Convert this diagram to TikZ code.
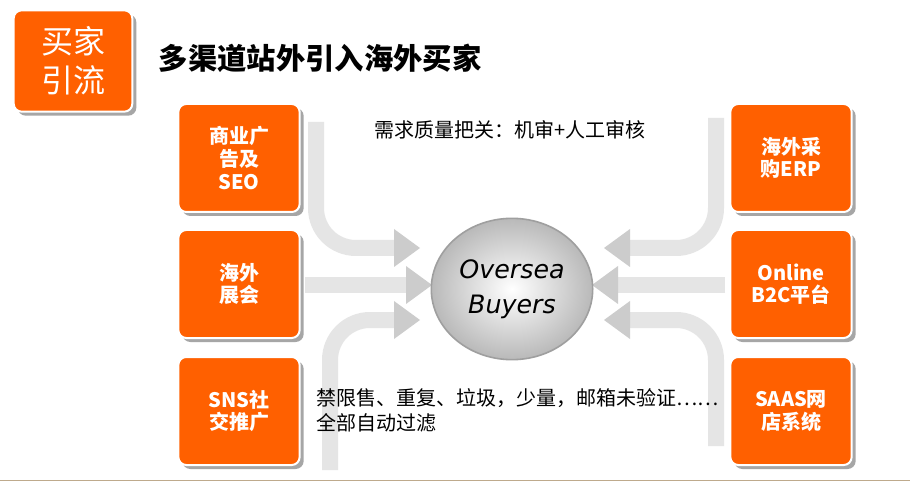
\documentclass[tikz,border=0pt]{standalone}
\usepackage{fontspec}
\setmainfont{Liberation Sans}
\newfontfamily\cjk{Noto Sans CJK SC}
\newfontfamily\ital{DejaVu Sans}
\usetikzlibrary{arrows.meta,shapes.geometric}
\definecolor{org}{HTML}{FF6000}
\tikzset{
  obox/.style={draw=white,line width=1.5pt,fill=org,rounded corners=6pt,minimum width=91pt,minimum height=81pt,text=white,font=\cjk\bfseries\fontsize{15}{17}\selectfont,align=center,
    preaction={fill=gray!70,draw=none,rounded corners=6pt,transform canvas={shift={(3pt,-3pt)}}}},
  flow/.style={line width=12pt,draw=gray!20,rounded corners=30pt},
  tipr/.style={fill=gray!40},
}
\begin{document}
\begin{tikzpicture}[x=0.75pt,y=-0.75pt]
\useasboundingbox (0,0) rectangle (910,488);
\fill[white] (0,0) rectangle (910,488);
\draw[color={rgb,255:red,190;green,170;blue,140},line width=0.6pt] (0,480) -- (910,480);
\node[obox,minimum width=89pt,minimum height=76pt,font=\cjk\fontsize{24}{29}\selectfont] (hd) at (73,61) {买家\\引流};
\node[anchor=west,font=\cjk\bfseries\fontsize{22}{24}\selectfont] (title) at (154,58) {多渠道站外引入海外买家};
\node[obox] (l1) at (239,158) {商业广\\告及\\SEO};
\node[obox] (l2) at (239,284) {海外\\展会};
\node[obox] (l3) at (239,411) {SNS社\\交推广};
\node[obox] (r1) at (791,158) {海外采\\购ERP};
\node[obox] (r2) at (791,284) {Online\\B2C平台};
\node[obox] (r3) at (791,411) {SAAS网\\店系统};
\coordinate (a1) at (316,122);
\coordinate (a1e) at (396,248);
\coordinate (a2) at (305,285);
\coordinate (a2e) at (408,285);
\coordinate (a3) at (330,470);
\coordinate (a3e) at (396,320);
\coordinate (b1) at (716,118);
\coordinate (b1e) at (628,248);
\coordinate (b2) at (725,285);
\coordinate (b2e) at (616,285);
\coordinate (b3) at (716,446);
\coordinate (b3e) at (628,320);
\draw[flow] (a1) -- (a1 |- a1e) -- (a1e);
\draw[flow] (a2) -- (a2e);
\draw[flow] (a3) -- (a3 |- a3e) -- (a3e);
\draw[flow] (b1) -- (b1 |- b1e) -- (b1e);
\draw[flow] (b2) -- (b2e);
\draw[flow] (b3) -- (b3 |- b3e) -- (b3e);
\foreach \p in {a1e,a2e,a3e} \fill[tipr] (\p) ++(-2,-19) -- ++(26,19) -- ++(-26,19) -- cycle;
\foreach \p in {b1e,b2e,b3e} \fill[tipr] (\p) ++(2,-19) -- ++(-26,19) -- ++(26,19) -- cycle;
\node[ellipse,minimum width=115pt,minimum height=106pt,inner color=white,outer color=gray!55,draw=gray!75,line width=1.2pt,align=center,font=\ital\itshape\fontsize{19}{26}\selectfont] (ob) at (512,289) {Oversea\\Buyers};
\node[font=\cjk\fontsize{15}{17}\selectfont] (t1) at (510,130) {需求质量把关：机审+人工审核};
\node[anchor=north west,align=left,font=\cjk\fontsize{15}{19}\selectfont,inner sep=0pt] (t2) at (316,388) {禁限售、重复、垃圾，少量，邮箱未验证……\\全部自动过滤};
\end{tikzpicture}
\end{document}
